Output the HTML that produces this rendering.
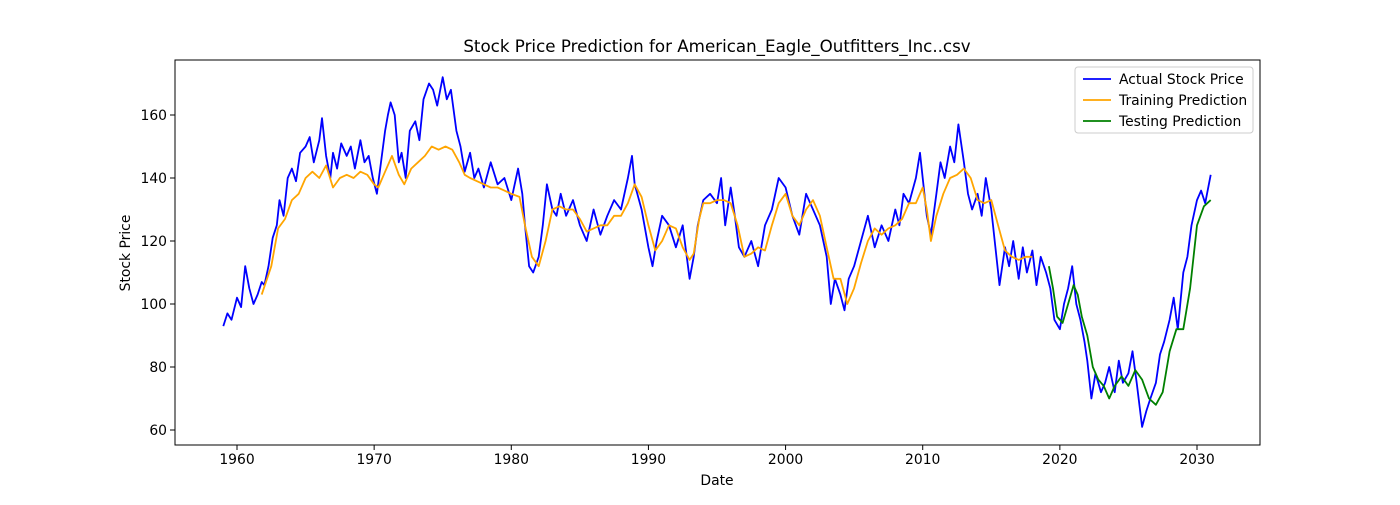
<!DOCTYPE html>
<html><head><meta charset="utf-8"><style>
body{margin:0;background:#fff;}
svg{font-family:"DejaVu Sans","Liberation Sans",sans-serif;}
</style></head><body>
<svg id="chart" width="1400" height="500" xmlns="http://www.w3.org/2000/svg">
<rect width="1400" height="500" fill="#fff"/>
<text x="717" y="52" text-anchor="middle" font-size="16.7">Stock Price Prediction for American_Eagle_Outfitters_Inc..csv</text>
<text x="717" y="485" text-anchor="middle" font-size="13.9">Date</text>
<text transform="translate(130,253) rotate(-90)" text-anchor="middle" font-size="13.9">Stock Price</text>
<g id="plot"></g>
</svg>
<script>
const actualX=[1959.0,1959.3,1959.6,1960.0,1960.3,1960.6,1960.9,1961.2,1961.5,1961.8,1962.0,1962.3,1962.6,1962.9,1963.1,1963.4,1963.7,1964.0,1964.3,1964.6,1965.0,1965.3,1965.6,1966.0,1966.2,1966.5,1966.8,1967.0,1967.3,1967.6,1968.0,1968.3,1968.6,1969.0,1969.3,1969.6,1969.9,1970.2,1970.5,1970.8,1971.0,1971.2,1971.5,1971.8,1972.0,1972.3,1972.6,1973.0,1973.3,1973.6,1974.0,1974.3,1974.6,1975.0,1975.3,1975.6,1976.0,1976.3,1976.6,1977.0,1977.3,1977.6,1978.0,1978.5,1979.0,1979.5,1980.0,1980.5,1980.8,1981.0,1981.3,1981.6,1982.0,1982.3,1982.6,1983.0,1983.3,1983.6,1984.0,1984.5,1985.0,1985.5,1986.0,1986.5,1987.0,1987.5,1988.0,1988.5,1988.8,1989.0,1989.5,1990.0,1990.3,1990.6,1991.0,1991.5,1992.0,1992.5,1993.0,1993.3,1993.6,1994.0,1994.5,1995.0,1995.3,1995.6,1996.0,1996.3,1996.6,1997.0,1997.5,1998.0,1998.5,1999.0,1999.5,2000.0,2000.5,2001.0,2001.5,2002.0,2002.5,2003.0,2003.3,2003.6,2004.0,2004.3,2004.6,2005.0,2005.5,2006.0,2006.5,2007.0,2007.5,2008.0,2008.3,2008.6,2009.0,2009.5,2009.8,2010.0,2010.3,2010.6,2011.0,2011.3,2011.6,2012.0,2012.3,2012.6,2013.0,2013.3,2013.6,2014.0,2014.3,2014.6,2015.0,2015.3,2015.6,2016.0,2016.3,2016.6,2017.0,2017.3,2017.6,2018.0,2018.3,2018.6,2019.0,2019.3,2019.6,2020.0,2020.3,2020.6,2020.9,2021.2,2021.5,2021.8,2022.0,2022.3,2022.6,2023.0,2023.3,2023.6,2024.0,2024.3,2024.6,2025.0,2025.3,2025.6,2026.0,2026.3,2026.6,2027.0,2027.3,2027.6,2028.0,2028.3,2028.6,2029.0,2029.3,2029.6,2030.0,2030.3,2030.6,2031.0];
const actualY=[93,97,95,102,99,112,105,100,103,107,106,112,121,125,133,128,140,143,139,148,150,153,145,152,159,147,140,148,143,151,147,150,143,152,145,147,140,135,145,155,160,164,160,145,148,140,155,158,152,165,170,168,163,172,165,168,155,150,142,148,140,143,137,145,138,140,133,143,135,125,112,110,115,125,138,130,128,135,128,133,125,120,130,122,128,133,130,140,147,138,130,118,112,120,128,125,118,125,108,115,125,133,135,132,140,125,137,128,118,115,120,112,125,130,140,137,128,122,135,130,125,115,100,108,103,98,108,112,120,128,118,125,120,130,125,135,132,140,148,140,128,122,135,145,140,150,145,157,145,135,130,135,128,140,130,118,106,118,112,120,108,118,110,117,106,115,110,105,95,92,100,105,112,100,95,88,82,70,78,72,75,80,72,82,75,78,85,75,61,66,70,75,84,88,95,102,92,110,115,125,133,136,132,141];
const trainX=[1961.8,1962.5,1963.0,1963.5,1964.0,1964.5,1965.0,1965.5,1966.0,1966.5,1967.0,1967.5,1968.0,1968.5,1969.0,1969.5,1970.0,1970.3,1970.8,1971.3,1971.8,1972.2,1972.7,1973.2,1973.7,1974.2,1974.7,1975.2,1975.7,1976.2,1976.6,1977.0,1977.5,1978.0,1978.5,1979.0,1979.5,1980.0,1980.6,1981.0,1981.5,1982.0,1982.5,1983.0,1983.5,1984.0,1984.5,1985.0,1985.5,1986.0,1986.5,1987.0,1987.5,1988.0,1988.5,1989.0,1989.5,1990.0,1990.5,1991.0,1991.5,1992.0,1992.5,1993.0,1993.3,1993.7,1994.0,1994.5,1995.0,1995.5,1996.0,1996.5,1997.0,1997.5,1998.0,1998.5,1999.0,1999.5,2000.0,2000.5,2001.0,2001.5,2002.0,2002.5,2003.0,2003.5,2004.0,2004.5,2005.0,2005.5,2006.0,2006.5,2007.0,2007.5,2008.0,2008.5,2009.0,2009.5,2010.0,2010.3,2010.6,2011.0,2011.5,2012.0,2012.5,2013.0,2013.5,2014.0,2014.5,2015.0,2015.5,2016.0,2016.5,2017.0,2017.5,2018.0];
const trainY=[103,112,124,127,133,135,140,142,140,144,137,140,141,140,142,141,138,137,142,147,141,138,143,145,147,150,149,150,149,145,141,140,139,138,137,137,136,135,134,125,115,112,120,130,131,130,130,127,123,124,125,125,128,128,132,138,134,125,117,120,125,124,118,114,116,127,132,132,133,133,132,125,115,116,118,117,125,132,135,128,125,130,133,128,118,108,108,100,105,113,120,124,122,124,125,127,132,132,137,130,120,128,135,140,141,143,140,133,132,133,125,117,115,114,115,115];
const testX=[2019.2,2019.5,2019.8,2020.2,2020.6,2021.0,2021.3,2021.6,2022.0,2022.4,2022.8,2023.2,2023.6,2024.0,2024.5,2025.0,2025.5,2026.0,2026.5,2027.0,2027.5,2028.0,2028.5,2029.0,2029.5,2030.0,2030.5,2031.0];
const testY=[112,105,96,94,100,106,103,96,90,80,76,74,70,74,77,74,79,76,70,68,72,85,92,92,105,125,131,133];
const xTicks=[1960,1970,1980,1990,2000,2010,2020,2030];
const yTicks=[60,80,100,120,140,160];

const L=175,R=1260,T=60,B=445;
const xs=v=>237+(v-1960)*960/70;
const ys=v=>430-(v-60)*3.15;
const NS="http://www.w3.org/2000/svg";
const g=document.getElementById('plot');
function mk(t,a){const e=document.createElementNS(NS,t);for(const k in a)e.setAttribute(k,a[k]);g.appendChild(e);return e;}
function line(xa,ya,color,name){
  const p=mk('path',{d:xa.map((x,i)=>(i?'L':'M')+xs(x).toFixed(1)+','+ys(ya[i]).toFixed(1)).join(''),fill:'none',stroke:color,'stroke-width':1.8,'stroke-linejoin':'round'});
  
  
}
line(actualX,actualY,'#0000ff','actual-price-line');
line(trainX,trainY,'#ffa500','training-prediction-line');
line(testX,testY,'#008000','testing-prediction-line');
const fr=mk('rect',{x:L,y:T,width:R-L,height:B-T,fill:'none',stroke:'#000','stroke-width':1});


xTicks.forEach(t=>{
  mk('line',{x1:xs(t),x2:xs(t),y1:B,y2:B+5,stroke:'#000'});
  const tx=mk('text',{x:xs(t),y:B+19,'text-anchor':'middle','font-size':13.9});
  tx.textContent=t;
  
  
});
yTicks.forEach(t=>{
  mk('line',{x1:L-5,x2:L,y1:ys(t),y2:ys(t),stroke:'#000'});
  const tx=mk('text',{x:L-8,y:ys(t)+5,'text-anchor':'end','font-size':13.9});
  tx.textContent=t;
  
  
});
const lg=mk('rect',{x:1075,y:67,width:178,height:66,rx:3,fill:'#fff','fill-opacity':0.8,stroke:'#ccc'});


[['Actual Stock Price','#0000ff'],['Training Prediction','#ffa500'],['Testing Prediction','#008000']].forEach((d,i)=>{
  const y=79+i*21;
  mk('line',{x1:1083,x2:1111,y1:y,y2:y,stroke:d[1],'stroke-width':1.8});
  const tx=mk('text',{x:1119,y:y+5,'font-size':13.9});
  tx.textContent=d[0];
  
  
});
</script>
</body></html>
